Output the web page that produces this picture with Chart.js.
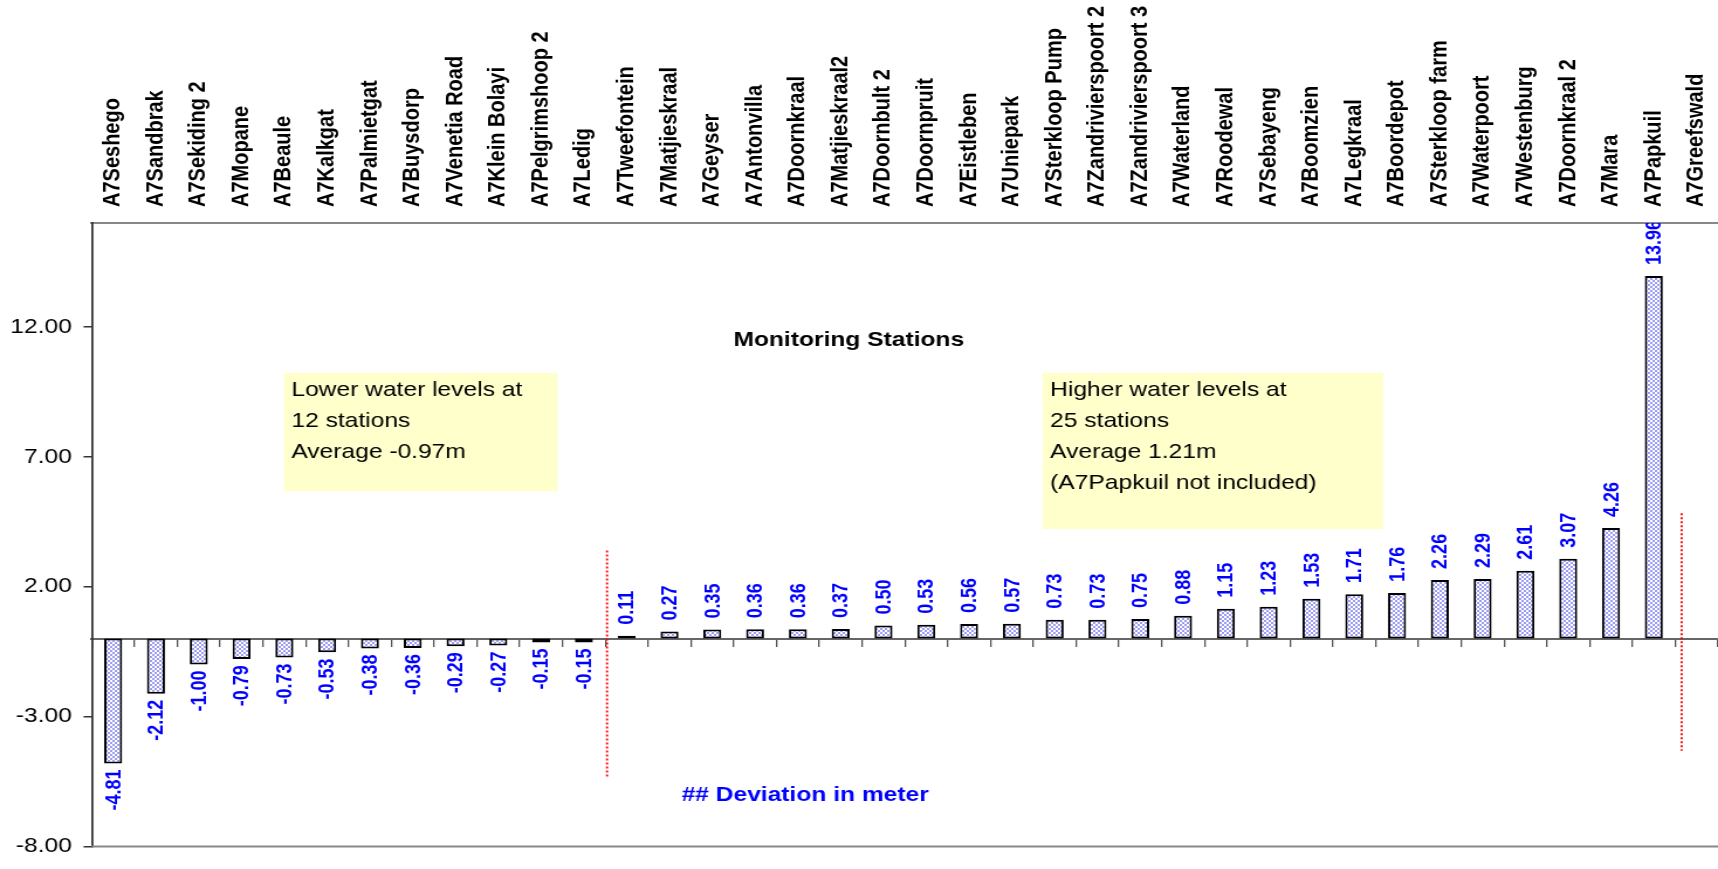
<!DOCTYPE html>
<html>
<head>
<meta charset="utf-8">
<script src="https://cdn.jsdelivr.net/npm/chart.js@4.4.0/dist/chart.umd.min.js"></script>
<style>
  html, body { margin: 0; padding: 0; background: #fff; overflow: hidden; }
  /* the original picture is a stretched export: draw narrower, show at full width */
  #chart { width: 1718px; height: 869px; display: block; }
</style>
</head>
<body>
<canvas id="chart" width="1468" height="869" style="width:1718px;height:869px"></canvas>
<script>
"use strict";

const stations = [
    "A7Seshego", "A7Sandbrak", "A7Sekiding 2", "A7Mopane", "A7Beaule", "A7Kalkgat",
    "A7Palmietgat", "A7Buysdorp", "A7Venetia Road", "A7Klein Bolayi", "A7Pelgrimshoop 2", "A7Ledig",
    "A7Tweefontein", "A7Matjieskraal", "A7Geyser", "A7Antonvilla", "A7Doornkraal", "A7Matjieskraal2",
    "A7Doornbult 2", "A7Doornpruit", "A7Eistleben", "A7Uniepark", "A7Sterkloop Pump", "A7Zandrivierspoort 2",
    "A7Zandrivierspoort 3", "A7Waterland", "A7Roodewal", "A7Sebayeng", "A7Boomzien", "A7Legkraal",
    "A7Boordepot", "A7Sterkloop farm", "A7Waterpoort", "A7Westenburg", "A7Doornkraal 2", "A7Mara",
    "A7Papkuil", "A7Greefswald"
];

const deviation = [
    -4.81, -2.12, -1.00, -0.79, -0.73, -0.53, -0.38, -0.36, -0.29, -0.27, -0.15, -0.15,
    0.11, 0.27, 0.35, 0.36, 0.36, 0.37, 0.50, 0.53, 0.56, 0.57, 0.73, 0.73,
    0.75, 0.88, 1.15, 1.23, 1.53, 1.71, 1.76, 2.26, 2.29, 2.61, 3.07, 4.26,
    13.96, null
];

const yTickValues = [-8, -3, 2, 7, 12];

const lowerNote = ["Lower water levels at", "12 stations", "Average -0.97m"];
const higherNote = ["Higher water levels at", "25 stations", "Average 1.21m", "(A7Papkuil not included)"];
const chartTitle = "Monitoring Stations";
const valueTitle = "## Deviation in meter";

const FONT = "'Liberation Sans', Arial, Helvetica, sans-serif";

// where the notes, titles and dividers sit, in axis units (category index, metres)
const notes = [
    { lines: lowerNote, x0: 3.99, x1: 10.38, y0: 10.23, y1: 5.67 },
    { lines: higherNote, x0: 21.72, x1: 29.68, y0: 10.23, y1: 4.22 }
];
const dividers = [
    { at: 11.54, from: 3.39, to: -5.34 },
    { at: 36.65, from: 4.83, to: -4.32 }
];
const titles = [
    { text: chartTitle, x: 17.19, y: 11.48, color: "#000" },
    { text: valueTitle, x: 16.17, y: -6.03, color: "#0000ff" }
];

function checkerPattern(ctx) {
    let tile = document.createElement("canvas");
    tile.width = 4;
    tile.height = 4;
    let g = tile.getContext("2d");
    g.fillStyle = "#ffffff";
    g.fillRect(0, 0, 4, 4);
    g.fillStyle = "#9c9cf2";
    g.fillRect(0, 0, 2, 2);
    g.fillRect(2, 2, 2, 2);
    return ctx.createPattern(tile, "repeat");
}

const backdrop = {
    id: "backdrop",
    beforeDatasetsDraw(chart) {
        let ctx = chart.ctx;
        let xs = chart.scales.x, ys = chart.scales.y;
        ctx.save();
        notes.forEach(n => {
            let left = xs.getPixelForValue(n.x0), right = xs.getPixelForValue(n.x1);
            let top = ys.getPixelForValue(n.y0), bottom = ys.getPixelForValue(n.y1);
            ctx.fillStyle = "#ffffcc";
            ctx.fillRect(left, top, right - left, bottom - top);
            ctx.fillStyle = "#000";
            ctx.font = "21px " + FONT;
            ctx.textAlign = "left";
            ctx.textBaseline = "middle";
            n.lines.forEach((line, i) => {
                ctx.fillText(line, left + 6.4, top + 17.5 + i * 31);
            });
        });
        titles.forEach(t => {
            ctx.fillStyle = t.color;
            ctx.font = "bold 21px " + FONT;
            ctx.textAlign = "center";
            ctx.textBaseline = "middle";
            ctx.fillText(t.text, xs.getPixelForValue(t.x), ys.getPixelForValue(t.y));
        });
        ctx.restore();
    },
    afterDraw(chart) {
        let ctx = chart.ctx;
        let area = chart.chartArea;
        let xs = chart.scales.x, ys = chart.scales.y;
        ctx.save();
        // bottom frame line
        ctx.strokeStyle = "#888";
        ctx.lineWidth = 2;
        ctx.beginPath();
        ctx.moveTo(area.left, area.bottom);
        ctx.lineTo(area.right, area.bottom);
        ctx.stroke();
        // red dotted dividers
        ctx.strokeStyle = "#ff0000";
        ctx.lineWidth = 1.8;
        ctx.setLineDash([2, 2]);
        dividers.forEach(d => {
            let x = xs.getPixelForValue(d.at);
            ctx.beginPath();
            ctx.moveTo(x, ys.getPixelForValue(d.from));
            ctx.lineTo(x, ys.getPixelForValue(d.to));
            ctx.stroke();
        });
        ctx.restore();
    }
};

const valueLabels = {
    id: "valueLabels",
    afterDatasetsDraw(chart) {
        let ctx = chart.ctx;
        let area = chart.chartArea;
        let meta = chart.getDatasetMeta(0);
        ctx.save();
        ctx.beginPath();
        ctx.rect(area.left, area.top, area.right - area.left, area.bottom - area.top);
        ctx.clip();
        ctx.fillStyle = "#0000ff";
        ctx.font = "bold 18px " + FONT;
        ctx.textBaseline = "middle";
        meta.data.forEach((bar, i) => {
            let v = deviation[i];
            if (v === null) return;
            ctx.save();
            if (v >= 0) {
                ctx.translate(bar.x, bar.y - 11);
                ctx.textAlign = "left";
            } else {
                ctx.translate(bar.x, bar.y + 6);
                ctx.textAlign = "right";
            }
            ctx.rotate(-Math.PI / 2);
            ctx.fillText(v.toFixed(2), 0, 1);
            ctx.restore();
        });
        ctx.restore();
    }
};

let canvas = document.getElementById("chart");
let ctx = canvas.getContext("2d");

new Chart(ctx, {
    type: "bar",
    data: {
        labels: stations,
        datasets: [{
            data: deviation,
            backgroundColor: checkerPattern(ctx),
            borderColor: "#000",
            borderWidth: 2,
            borderSkipped: false,
            barPercentage: 0.42,
            categoryPercentage: 1.0,
            xAxisID: "x",
            yAxisID: "y"
        }]
    },
    options: {
        responsive: false,
        devicePixelRatio: 1,
        animation: false,
        layout: { padding: { left: 0, right: 0, top: 0, bottom: 14 } },
        plugins: {
            legend: { display: false },
            tooltip: { enabled: false }
        },
        scales: {
            x: {
                type: "category",
                position: "top",
                offset: true,
                grid: { display: true, drawOnChartArea: false, drawTicks: false, offset: true },
                border: { display: true, color: "#888", width: 2 },
                ticks: {
                    autoSkip: false,
                    minRotation: 90,
                    maxRotation: 90,
                    padding: 16,
                    labelOffset: 24,
                    color: "#000",
                    font: { family: FONT, size: 20, weight: "bold" }
                },
                afterFit: s => { s.height = 223; }
            },
            x0: {
                type: "category",
                axis: "x",
                labels: stations,
                position: { y: 0 },
                offset: true,
                ticks: { display: false },
                grid: { drawOnChartArea: false, drawTicks: true, tickLength: 7, offset: true, color: "#555", lineWidth: 1.3 },
                border: { display: true, color: "#666", width: 2 }
            },
            y: {
                min: -8,
                max: 16,
                afterBuildTicks: s => { s.ticks = yTickValues.map(v => ({ value: v })); },
                afterFit: s => { s.width = 78.4; },
                grid: { drawOnChartArea: false, drawTicks: true, tickLength: 7, color: "#333", lineWidth: 1.5 },
                border: { display: true, color: "#333", width: 1.8 },
                ticks: {
                    padding: 10,
                    color: "#000",
                    font: { family: FONT, size: 21 },
                    callback: v => Number(v).toFixed(2)
                }
            }
        }
    },
    plugins: [backdrop, valueLabels]
});
</script>
</body>
</html>
